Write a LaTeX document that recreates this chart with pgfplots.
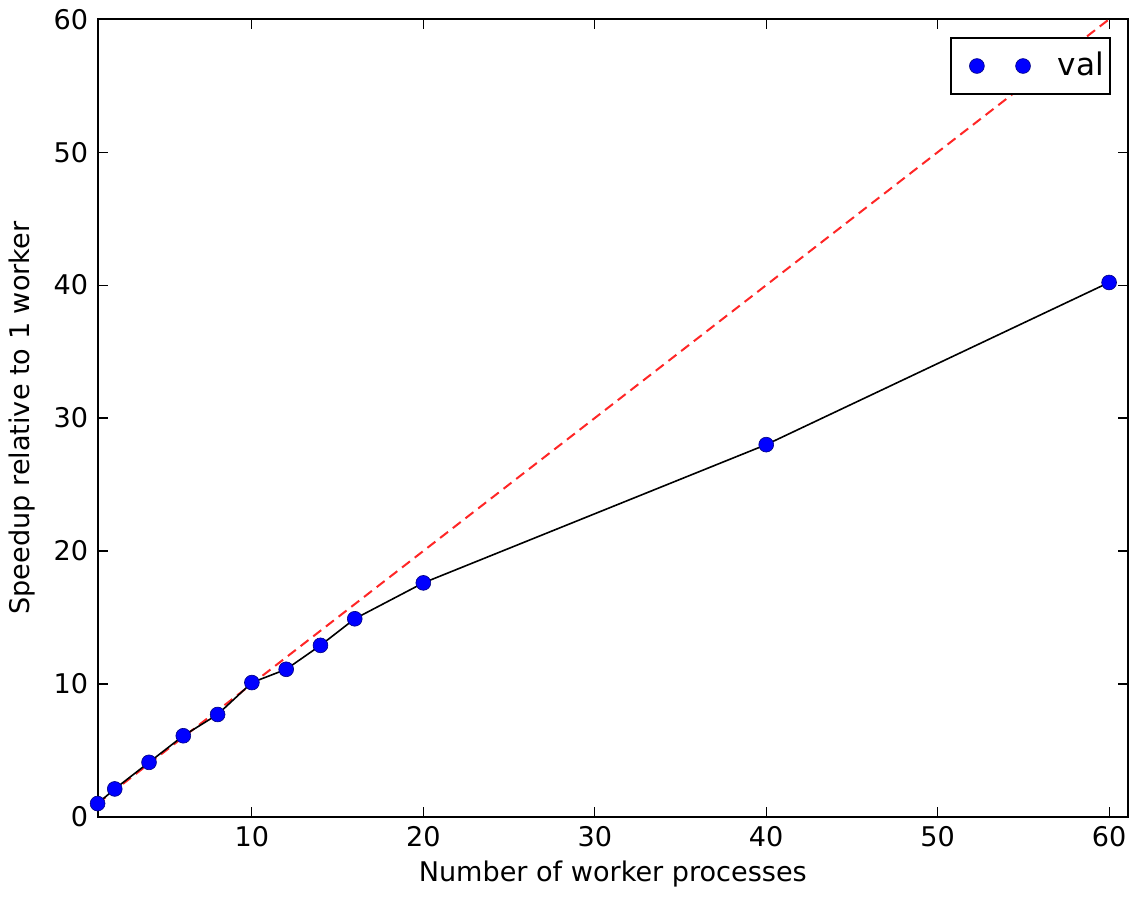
\documentclass[border=0pt]{standalone}
\usepackage{fontspec}
\setmainfont{DejaVu Sans}
\usepackage{pgfplots}
\pgfplotsset{compat=1.18}

\definecolor{mplblue}{rgb}{0,0,1}

\begin{document}
\fontsize{13.5}{16}\selectfont
\begin{tikzpicture}
\begin{axis}[
    scale only axis,
    width=513.5pt,
    height=397.5pt,
    xmin=1, xmax=61.1,
    ymin=0, ymax=60,
    xtick={10,20,30,40,50,60},
    ytick={0,10,20,30,40,50,60},
    tick align=inside,
    major tick length=5pt,
    tick style={black, line width=0.6pt},
    axis line style={line width=1pt},
    /pgf/number format/assume math mode=true,
    ticklabel style={font=\fontsize{13.5}{16}\selectfont},
    label style={font=\fontsize{13.5}{16}\selectfont},
    xlabel={Number of worker processes},
    ylabel={Speedup relative to 1 worker},
    xlabel style={yshift=2pt},
    legend style={at={(1,1)}, anchor=north east, xshift=-8.5pt, yshift=-9pt,
        draw=black, line width=0.8pt, font=\fontsize{15.5}{18}\selectfont,
        inner xsep=1pt, inner ysep=5pt},
    legend cell align=left,
    clip=true,
]
\addplot[red!85!white, line width=1pt, dash pattern=on 5pt off 3pt, forget plot]
    coordinates {(1,1) (60,60)};
\addplot[black, line width=0.8pt, forget plot] coordinates {
    (1,1.0) (2,2.1) (4,4.1) (6,6.1) (8,7.7) (10,10.1) (12,11.1)
    (14,12.9) (16,14.9) (20,17.6) (40,28.0) (60,40.2)
};
\addplot[only marks, mark=*, mark size=3.7pt,
    mark options={fill=mplblue, draw=blue!50!black, line width=0.3pt},
    legend image code/.code={
        \path (-11.5pt,0pt) (38pt,0pt);
        \path plot coordinates {(0pt,0pt) (23pt,0pt)};
    }] coordinates {
    (1,1.0) (2,2.1) (4,4.1) (6,6.1) (8,7.7) (10,10.1) (12,11.1)
    (14,12.9) (16,14.9) (20,17.6) (40,28.0) (60,40.2)
};
\addlegendentry{val}
\end{axis}
\path (current axis.south east) ++(8.5pt,0);
\end{tikzpicture}
\end{document}
